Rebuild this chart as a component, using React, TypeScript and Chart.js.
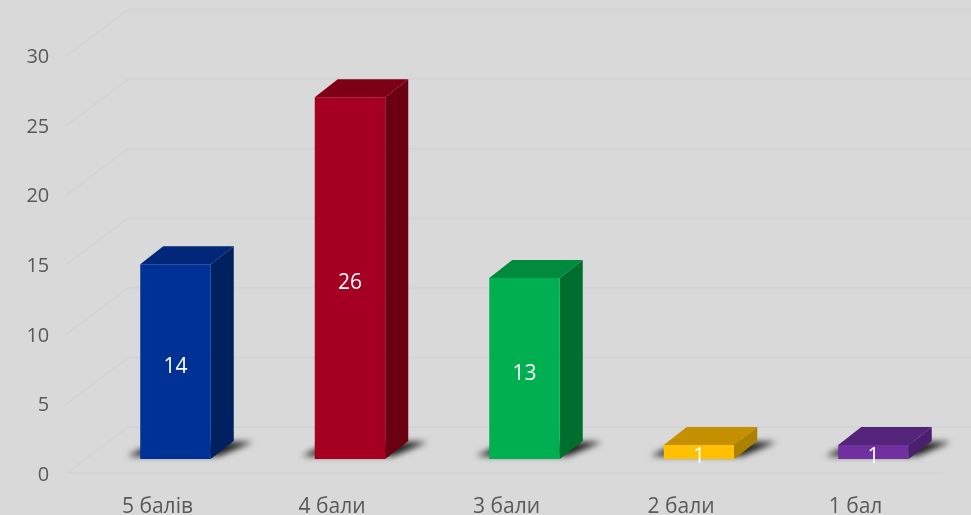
import React, { useEffect, useRef } from "react";
import { Chart, registerables } from "chart.js";

Chart.register(...registerables);

const categories = ["5 балів", "4 бали", "3 бали", "2 бали", "1 бал"];
const values = [14, 26, 13, 1, 1];
const frontColors = ["#003296", "#A50021", "#00B050", "#FFC000", "#7030A0"];
const topColors = ["#00277A", "#7E0016", "#008A3E", "#C49000", "#54237A"];
const sideColors = ["#002060", "#6A0012", "#006E2F", "#AD8000", "#4A206E"];
const yTicks = [0, 5, 10, 15, 20, 25, 30];

const BG = "#D9D9D9";
const FONT = "'Open Sans', Lato, sans-serif";
const DX = 23;
const DY = 18;

const scene = {
  id: "scene",
  beforeDatasetsDraw(chart: any) {
    const { ctx, scales } = chart;
    const y = scales.y;
    ctx.save();
    ctx.strokeStyle = "#D4D4D4";
    ctx.lineWidth = 2;
    yTicks.forEach((v) => {
      const py = y.getPixelForValue(v);
      ctx.beginPath();
      ctx.moveTo(67, py + 14);
      ctx.lineTo(128, py - 32);
      ctx.lineTo(971, py - 32);
      ctx.stroke();
    });
    const py0 = y.getPixelForValue(0);
    ctx.beginPath();
    ctx.moveTo(67, py0 + 14);
    ctx.lineTo(943, py0 + 14);
    ctx.stroke();
    ctx.restore();

    chart.getDatasetMeta(0).data.forEach((bar: any, i: number) => {
      const left = bar.x - bar.width / 2;
      const right = bar.x + bar.width / 2;
      const top = bar.y;
      const base = bar.base;
      // shadow on the floor
      ctx.save();
      ctx.filter = "blur(3px)";
      ctx.fillStyle = "rgba(15,15,15,0.95)";
      ctx.beginPath();
      ctx.moveTo(left - 13, base - 3);
      ctx.lineTo(left + 2, base - 10);
      ctx.lineTo(right + 22, base - 17);
      ctx.lineTo(right + 42, base - 17);
      ctx.lineTo(right + 8, base - 3);
      ctx.lineTo(left, base - 3);
      ctx.closePath();
      ctx.fill();
      ctx.restore();
      // top face
      ctx.fillStyle = topColors[i];
      ctx.beginPath();
      ctx.moveTo(left, top);
      ctx.lineTo(left + DX, top - DY);
      ctx.lineTo(right + DX, top - DY);
      ctx.lineTo(right, top);
      ctx.closePath();
      ctx.fill();
      // side face
      ctx.fillStyle = sideColors[i];
      ctx.beginPath();
      ctx.moveTo(right, top);
      ctx.lineTo(right + DX, top - DY);
      ctx.lineTo(right + DX, base - DY);
      ctx.lineTo(right, base);
      ctx.closePath();
      ctx.fill();
    });
  },
  afterDatasetsDraw(chart: any) {
    const { ctx } = chart;
    ctx.save();
    ctx.fillStyle = "#FFFFFF";
    ctx.font = `21px ${FONT}`;
    ctx.textAlign = "center";
    ctx.textBaseline = "middle";
    chart.getDatasetMeta(0).data.forEach((bar: any, i: number) => {
      ctx.fillText(String(values[i]), bar.x, (bar.y + bar.base) / 2 + 5);
    });
    ctx.restore();
  },
};

export default function App() {
  const ref = useRef<HTMLCanvasElement>(null);
  useEffect(() => {
    const chart = new Chart(ref.current!, {
      type: "bar",
      data: {
        labels: categories,
        datasets: [
          {
            data: values,
            backgroundColor: frontColors,
            barPercentage: 0.404,
            categoryPercentage: 1,
            borderWidth: 0,
          },
        ],
      },
      options: {
        responsive: false,
        animation: false,
        layout: { padding: { top: 41.5, right: 10.25, left: 0, bottom: 0 } },
        plugins: { legend: { display: false }, tooltip: { enabled: false } },
        scales: {
          x: {
            grid: { display: false },
            border: { display: false },
            afterFit: (s: any) => {
              s.height = 56;
            },
            ticks: {
              color: "#595959",
              font: { family: FONT, size: 21 },
              padding: 27,
              labelOffset: -18,
              maxRotation: 0,
            },
          },
          y: {
            min: 0,
            max: 30,
            grid: { display: false, drawTicks: false },
            border: { display: false },
            afterFit: (s: any) => {
              s.width = 88.25;
              s.paddingTop = 0;
              s.paddingBottom = 0;
              if (s._margins) {
                s._margins.top = 0;
                s._margins.bottom = 0;
              }
            },
            ticks: {
              stepSize: 5,
              color: "#595959",
              font: { family: FONT, size: 20 },
              padding: 39,
              labelOffset: 16,
            },
          },
        },
      },
      plugins: [scene],
    } as any);
    return () => chart.destroy();
  }, []);
  return (
    <canvas
      ref={ref}
      width={971}
      height={515}
      style={{ position: "fixed", left: 0, top: 0, width: 971, height: 515, background: BG }}
    />
  );
}
